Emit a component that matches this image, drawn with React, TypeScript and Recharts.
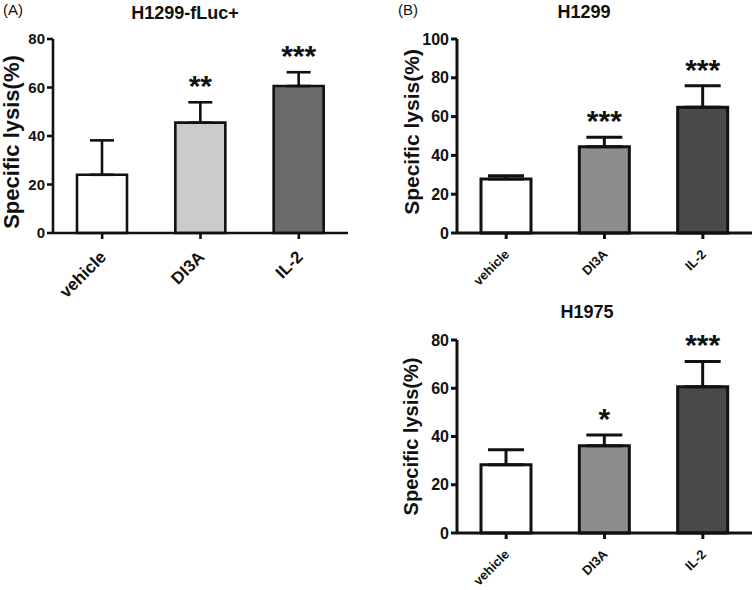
import { BarChart, Bar, XAxis, YAxis, ErrorBar, Cell, LabelList } from 'recharts';

const groups = ['vehicle', 'DI3A', 'IL-2'];

// (A) H1299-fLuc+
const fLucMean = [24, 45.5, 60.6];
const fLucSem = [14.2, 8.4, 5.7];
const fLucStars = ['', '**', '***'];

// (B) H1299
const h1299Mean = [27.8, 44.5, 64.8];
const h1299Sem = [1.7, 4.8, 11.1];
const h1299Stars = ['', '***', '***'];

// (B) H1975
const h1975Mean = [28.3, 36.2, 60.6];
const h1975Sem = [6.2, 4.4, 10.5];
const h1975Stars = ['', '*', '***'];

const ticks80 = [0, 20, 40, 60, 80];
const ticks100 = [0, 20, 40, 60, 80, 100];

const FONT = '"Liberation Sans", Arial, sans-serif';

function makeRows(mean: number[], sem: number[], stars: string[]) {
  return groups.map((name, i) => ({
    name,
    mean: mean[i],
    sem: sem[i],
    err: [0, sem[i]],
    sig: stars[i],
  }));
}

interface PanelProps {
  rows: any[];
  fills: string[];
  left: number;
  top: number;
  width: number;
  height: number;
  marginTop: number;
  marginRight: number;
  yWidth: number;
  xHeight: number;
  yMax: number;
  yTicks: number[];
  tickFont: number;
  catFont: number;
  catDx: number;
  catDy: number;
  titleFont: number;
  titleShift: number;
  barSize: number;
  capWidth: number;
  stroke: number;
}

function Panel(p: PanelProps) {
  const starLabel = (props: any) => {
    const { x, y, width, height, index, value } = props;
    if (!value) return null;
    const r = p.rows[index];
    const errPx = (height / r.mean) * r.sem;
    return (
      <text
        x={x + width / 2}
        y={y - errPx - 6}
        textAnchor="middle"
        fontFamily={FONT}
        fontWeight="bold"
        fontSize={30}
        fill="#111"
      >
        {value}
      </text>
    );
  };

  const catTick = (props: any) => {
    const { x, y, payload } = props;
    const ax = x + p.catDx;
    const ay = y + p.catDy;
    return (
      <text
        x={ax}
        y={ay}
        transform={`rotate(-45, ${ax}, ${ay})`}
        textAnchor="end"
        fontFamily={FONT}
        fontWeight="bold"
        fontSize={p.catFont}
        fill="#111"
      >
        {payload.value}
      </text>
    );
  };

  const yTitle = (props: any) => {
    const vb = props.viewBox;
    const cx = vb.x + 11;
    const cy = vb.y + vb.height / 2 + p.titleShift;
    return (
      <text
        x={cx}
        y={cy}
        dy="0.36em"
        transform={`rotate(-90, ${cx}, ${cy})`}
        textAnchor="middle"
        fontFamily={FONT}
        fontWeight="bold"
        fontSize={p.titleFont}
        fill="#111"
      >
        Specific lysis(%)
      </text>
    );
  };

  return (
    <div style={{ position: 'absolute', left: p.left, top: p.top }}>
      <BarChart
        width={p.width}
        height={p.height}
        data={p.rows}
        margin={{ top: p.marginTop, right: p.marginRight, left: 0, bottom: 0 }}
      >
        <XAxis
          dataKey="name"
          height={p.xHeight}
          axisLine={{ stroke: '#111', strokeWidth: p.stroke }}
          tickLine={{ stroke: '#111', strokeWidth: p.stroke }}
          tickSize={6}
          tickMargin={2}
          interval={0}
          tick={catTick}
        />
        <YAxis
          width={p.yWidth}
          domain={[0, p.yMax]}
          ticks={p.yTicks}
          interval={0}
          axisLine={{ stroke: '#111', strokeWidth: p.stroke }}
          tickLine={{ stroke: '#111', strokeWidth: p.stroke }}
          tickSize={6}
          tickMargin={2}
          tick={{ fontFamily: FONT, fontWeight: 'bold', fontSize: p.tickFont, fill: '#111' }}
          label={yTitle}
        />
        <Bar
          dataKey="mean"
          barSize={p.barSize}
          stroke="#111"
          strokeWidth={p.stroke}
          isAnimationActive={false}
        >
          {p.rows.map((r, i) => (
            <Cell key={r.name} fill={p.fills[i]} />
          ))}
          <ErrorBar
            dataKey="err"
            width={p.capWidth}
            stroke="#111"
            strokeWidth={p.stroke}
            direction="y"
            isAnimationActive={false}
          />
          <LabelList dataKey="sig" content={starLabel} />
        </Bar>
      </BarChart>
    </div>
  );
}

const titleStyle = {
  position: 'absolute' as const,
  width: 200,
  textAlign: 'center' as const,
  fontFamily: FONT,
  fontWeight: 'bold' as const,
  fontSize: 18,
  lineHeight: '22px',
  color: '#111',
};

const tagStyle = {
  position: 'absolute' as const,
  fontFamily: FONT,
  fontSize: 15,
  lineHeight: '18px',
  color: '#111',
};

export default function App() {
  return (
    <div
      style={{
        position: 'absolute',
        left: 0,
        top: 0,
        width: 755,
        height: 590,
        background: '#fff',
        overflow: 'hidden',
      }}
    >
      <Panel
        rows={makeRows(fLucMean, fLucSem, fLucStars)}
        fills={['#ffffff', '#cbcbcb', '#6b6b6b']}
        left={0}
        top={0}
        width={355}
        height={315}
        marginTop={39}
        marginRight={7}
        yWidth={53}
        xHeight={82}
        yMax={80}
        yTicks={ticks80}
        tickFont={15}
        catFont={17}
        catDx={5}
        catDy={17}
        titleFont={22}
        titleShift={6}
        barSize={50}
        capWidth={12}
        stroke={2.6}
      />
      <Panel
        rows={makeRows(h1299Mean, h1299Sem, h1299Stars)}
        fills={['#ffffff', '#8d8d8d', '#4a4a4a']}
        left={400}
        top={0}
        width={355}
        height={300}
        marginTop={39}
        marginRight={3}
        yWidth={57}
        xHeight={67}
        yMax={100}
        yTicks={ticks100}
        tickFont={16}
        catFont={13}
        catDx={4}
        catDy={14}
        titleFont={21}
        titleShift={-4}
        barSize={50}
        capWidth={18}
        stroke={3}
      />
      <Panel
        rows={makeRows(h1975Mean, h1975Sem, h1975Stars)}
        fills={['#ffffff', '#8d8d8d', '#4a4a4a']}
        left={400}
        top={290}
        width={355}
        height={300}
        marginTop={50}
        marginRight={3}
        yWidth={57}
        xHeight={57}
        yMax={80}
        yTicks={ticks80}
        tickFont={16}
        catFont={13}
        catDx={4}
        catDy={14}
        titleFont={20}
        titleShift={0}
        barSize={50}
        capWidth={18}
        stroke={3}
      />
      <div style={{ ...titleStyle, left: 85, top: 2 }}>H1299-fLuc+</div>
      <div style={{ ...titleStyle, left: 484, top: 1 }}>H1299</div>
      <div style={{ ...titleStyle, left: 487, top: 301 }}>H1975</div>
      <div style={{ ...tagStyle, left: 3, top: 1 }}>(A)</div>
      <div style={{ ...tagStyle, left: 398, top: 1 }}>(B)</div>
    </div>
  );
}
